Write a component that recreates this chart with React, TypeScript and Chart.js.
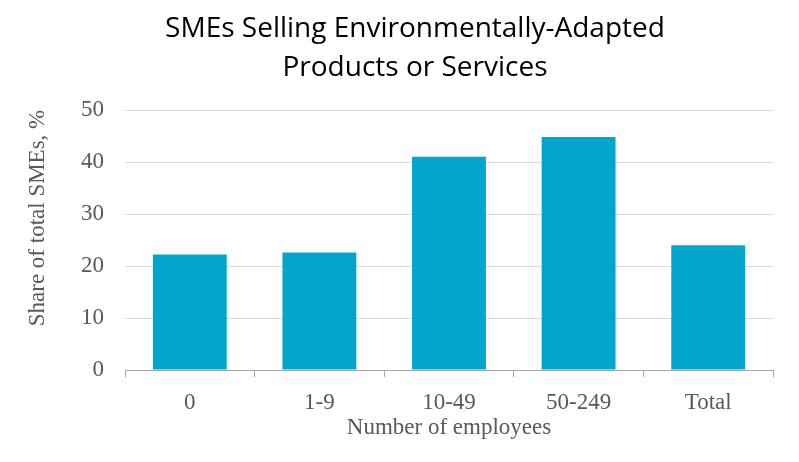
import React, { useEffect, useRef } from 'react';
import { Chart, registerables } from 'chart.js';

Chart.register(...registerables);

const TITLE_LINES = ['SMEs Selling Environmentally-Adapted', 'Products or Services'];
const categories = ['0', '1-9', '10-49', '50-249', 'Total'];
const shares = [22.2, 22.6, 41.0, 44.8, 24.0];
const Y_MIN = 0;
const Y_MAX = 50;
const Y_STEP = 10;
const Y_TITLE = 'Share of total SMEs, %';
const X_TITLE = 'Number of employees';

const SERIF = '"Liberation Serif", "Times New Roman", serif';
const TEXT_GRAY = '#595959';

const titlePlugin = {
  id: 'customTexts',
  afterDraw(chart: any) {
    const ctx = chart.ctx;
    ctx.save();
    ctx.font = '28px "Open Sans", Lato, sans-serif';
    ctx.fillStyle = '#000000';
    ctx.textAlign = 'center';
    ctx.textBaseline = 'alphabetic';
    TITLE_LINES.forEach((line, i) => ctx.fillText(line, 415, 37 + i * 39));
    ctx.restore();

    ctx.save();
    ctx.translate(38, 218);
    ctx.rotate(-Math.PI / 2);
    ctx.font = '23px ' + SERIF;
    ctx.fillStyle = TEXT_GRAY;
    ctx.textAlign = 'center';
    ctx.textBaseline = 'middle';
    ctx.fillText(Y_TITLE, 0, 0);
    ctx.restore();
  },
};

export default function App() {
  const ref = useRef<HTMLCanvasElement>(null);
  useEffect(() => {
    if (!ref.current) return;
    const chart = new Chart(ref.current, {
      type: 'bar',
      data: {
        labels: categories,
        datasets: [
          {
            data: shares,
            backgroundColor: '#02a6cc',
            borderWidth: 0,
            barPercentage: 0.57,
            categoryPercentage: 1,
          },
        ],
      },
      options: {
        animation: false,
        responsive: false,
        devicePixelRatio: 1,
        layout: { padding: { top: 110, right: 26, bottom: 0, left: 0 } },
        plugins: { legend: { display: false }, tooltip: { enabled: false }, title: { display: false } },
        scales: {
          x: {
            grid: {
              display: true,
              drawOnChartArea: false,
              drawTicks: true,
              tickLength: 7,
              color: '#a6a6a6',
              lineWidth: 1,
              offset: true,
            },
            border: { display: true, color: '#a6a6a6', width: 1 },
            ticks: { color: TEXT_GRAY, font: { family: SERIF, size: 23 }, padding: 12, maxRotation: 0 },
            title: {
              display: true,
              text: X_TITLE,
              color: TEXT_GRAY,
              font: { family: SERIF, size: 23 },
              padding: { top: 0, bottom: 20 },
            },
            afterFit(scale: any) {
              scale.height = 92;
            },
          },
          y: {
            min: Y_MIN,
            max: Y_MAX,
            ticks: { stepSize: Y_STEP, color: TEXT_GRAY, font: { family: SERIF, size: 23 }, padding: 21 },
            grid: { color: '#d9d9d9', lineWidth: 1, drawTicks: false },
            border: { display: false },
            afterFit(scale: any) {
              scale.width = 125;
            },
          },
        },
      },
      plugins: [titlePlugin],
    });
    return () => chart.destroy();
  }, []);
  return (
    <div style={{ position: 'fixed', left: 0, top: 0, width: 799, height: 462, background: '#fff' }}>
      <canvas ref={ref} width={799} height={462} style={{ display: 'block' }} />
    </div>
  );
}
